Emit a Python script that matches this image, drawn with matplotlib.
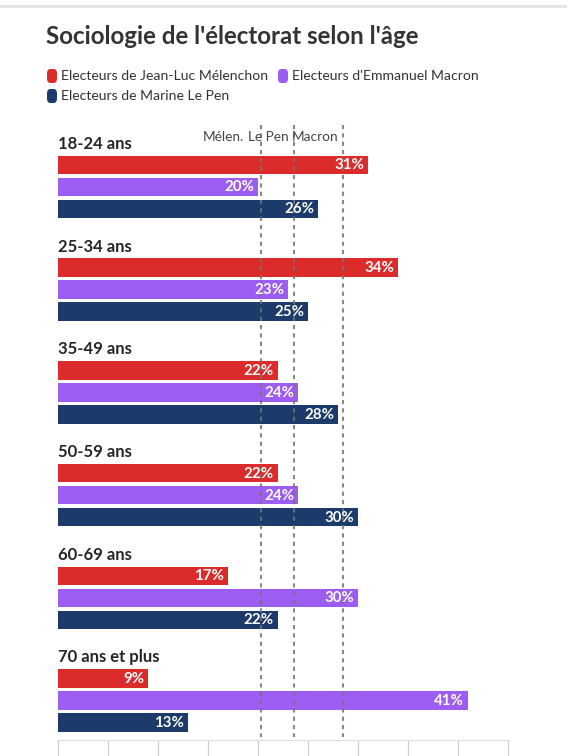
import matplotlib.pyplot as plt
from matplotlib.patches import FancyBboxPatch

plt.rcParams['font.family'] = ['Lato', 'DejaVu Sans']

ages = ['18-24 ans', '25-34 ans', '35-49 ans', '50-59 ans', '60-69 ans', '70 ans et plus']
melenchon = [31, 34, 22, 22, 17, 9]
macron = [20, 23, 24, 24, 30, 41]
lepen = [26, 25, 28, 30, 22, 13]

series_names = ["Electeurs de Jean-Luc Mélenchon", "Electeurs d'Emmanuel Macron",
                "Electeurs de Marine Le Pen"]
colors = ['#dc2b2b', '#9d5cf2', '#1c3b6a']

ref_names = ['Mélen.', 'Le Pen', 'Macron']
ref_values = [20.3, 23.6, 28.5]
ref_label_end = [18.6, 23.1, 28.0]   # where each label's right edge sits

W, H = 567, 756
fig = plt.figure(figsize=(W / 100, H / 100), dpi=100)

# axes placed in pixel coordinates: x 58..508, y 125..740
x0, x1, ytop, ybot = 58, 508, 125, 740
ax = fig.add_axes([x0 / W, 1 - ybot / H, (x1 - x0) / W, (ybot - ytop) / H])
ax.set_xlim(0, 45)
ax.set_ylim(ybot, ytop)

period = 102.7
pitch = 22
bar_h = 18.5
first = 165

for i, age in enumerate(ages):
    base = first + i * period
    vals = [melenchon[i], macron[i], lepen[i]]
    for j, v in enumerate(vals):
        y = base + j * pitch
        ax.barh(y, v, height=bar_h, color=colors[j], zorder=2)
        ax.text(v - 0.4, y + 0.5, f'{v}%', color='white', fontsize=10.8,
                fontweight='bold', ha='right', va='center', zorder=4)
    ax.text(0, base - 21, age, fontsize=12, fontweight='bold', color='#262626',
            ha='left', va='center')

for name, v, e in zip(ref_names, ref_values, ref_label_end):
    ax.vlines(v, 125, 737, colors='#737373', linewidth=1.5,
              linestyles=(0, (2, 2)), zorder=3, alpha=0.85)
    ax.text(e, 137, name, fontsize=9.8, color='#444444',
            ha='right', va='center')

for s in ['top', 'right', 'left']:
    ax.spines[s].set_visible(False)
ax.spines['bottom'].set_color('#dddddd')
ax.set_xticks(range(0, 50, 5))
ax.set_yticks([])
ax.tick_params(axis='x', length=14, color='#cccccc', labelbottom=False)

# title
fig.text(46 / W, 1 - 37 / H, "Sociologie de l'électorat selon l'âge",
         fontsize=17.4, fontweight='bold', color='#333333', ha='left', va='center')

# legend
leg_pos = [(47, 76), (278, 76), (47, 96)]
for (lx, ly), name, c in zip(leg_pos, series_names, colors):
    fig.patches.append(FancyBboxPatch(
        (lx / W, 1 - (ly + 7) / H), 10 / W, 14 / H,
        boxstyle='round,pad=0,rounding_size=0.006', transform=fig.transFigure,
        facecolor=c, edgecolor='none'))
    fig.text((lx + 14) / W, 1 - ly / H, name, fontsize=10.1, color='#333333',
             ha='left', va='center')

# thin separator line at the top
fig.add_artist(plt.Line2D([0, 1], [1 - 6 / H, 1 - 6 / H], transform=fig.transFigure,
                          color='#e2e2e2', linewidth=2))

fig.savefig('out.png', dpi=100, facecolor='white')
